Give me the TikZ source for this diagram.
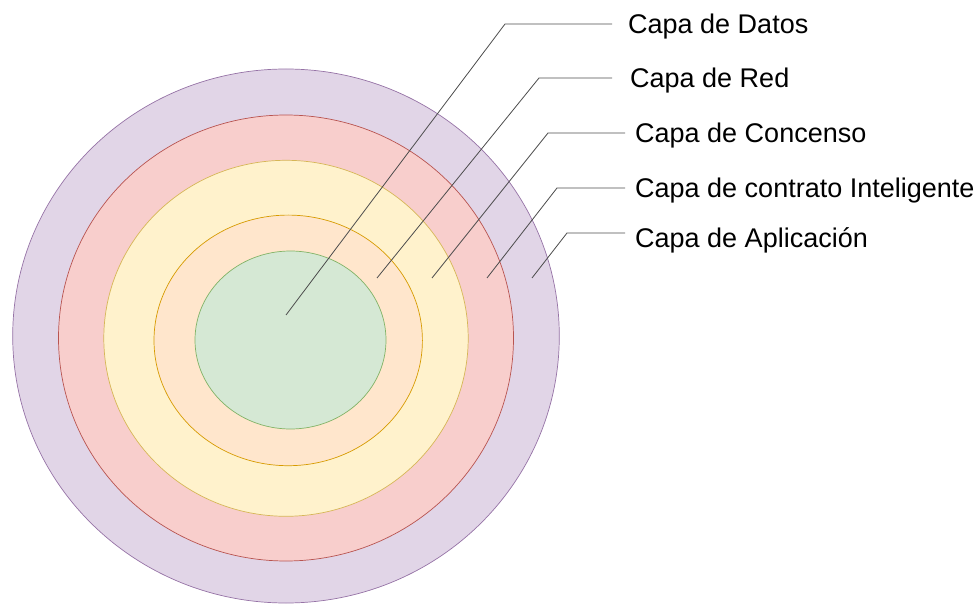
\documentclass[tikz,border=0pt]{standalone}
\usepackage{fontspec}
\setmainfont{Liberation Sans}
\usetikzlibrary{positioning,shapes.geometric}

\definecolor{aplfill}{HTML}{E1D5E7}\definecolor{apldraw}{HTML}{9673A6}
\definecolor{ctrfill}{HTML}{F8CECC}\definecolor{ctrdraw}{HTML}{B85450}
\definecolor{conFill}{HTML}{FFF2CC}\definecolor{condraw}{HTML}{D6B656}
\definecolor{redfill}{HTML}{FFE6CC}\definecolor{reddraw}{HTML}{D79B00}
\definecolor{datfill}{HTML}{D5E8D4}\definecolor{datdraw}{HTML}{82B366}

\begin{document}
\begin{tikzpicture}[x=1pt, y=-1pt, every node/.style={font=\fontsize{27}{32}\selectfont}]
\useasboundingbox (0,0) rectangle (980,604);
\tikzset{ring/.style={ellipse, line width=0.7pt, inner sep=0pt}, lead/.style={draw=black!70, line width=0.8pt},
  lbl/.style={anchor=base west, inner ysep=0pt}}
\node (apl) [ring, draw=apldraw, fill=aplfill, minimum width=546.6pt, minimum height=534pt] at (286,336) {};
\node (ctr) [ring, draw=ctrdraw, fill=ctrfill, minimum width=455pt, minimum height=446pt] at (286,338) {};
\node (con) [ring, draw=condraw, fill=conFill, minimum width=364.4pt, minimum height=356pt] at (286,338.3) {};
\node (red) [ring, draw=reddraw, fill=redfill, minimum width=268.4pt, minimum height=250.6pt] at (288.2,340.4) {};
\node (dat) [ring, draw=datdraw, fill=datfill, minimum width=191pt, minimum height=178pt] at (290.5,340) {};
\coordinate (p1) at (286,315); \coordinate (k1) at (505,24);
\coordinate (p2) at (377,278); \coordinate (k2) at (539,78);
\coordinate (p3) at (432,278); \coordinate (k3) at (548,133);
\coordinate (p4) at (487,278); \coordinate (k4) at (557,188);
\coordinate (p5) at (532,278); \coordinate (k5) at (567,233);
\node (t1) [lbl, inner xsep=16pt] at (612,33.5) {Capa de Datos};
\node (t2) [lbl, inner xsep=18pt] at (612,87.5) {Capa de Red};
\node (t3) [lbl, inner xsep=10pt] at (625,142.5) {Capa de Concenso};
\node (t4) [lbl, inner xsep=10pt] at (625,197.5) {Capa de contrato Inteligente};
\node (t5) [lbl, inner xsep=10pt] at (625,247.5) {Capa de Aplicación};
\draw[lead] (p1) -- (k1) -- (t1.west |- k1);
\draw[lead] (p2) -- (k2) -- (t2.west |- k2);
\draw[lead] (p3) -- (k3) -- (t3.west |- k3);
\draw[lead] (p4) -- (k4) -- (t4.west |- k4);
\draw[lead] (p5) -- (k5) -- (t5.west |- k5);
\end{tikzpicture}
\end{document}
